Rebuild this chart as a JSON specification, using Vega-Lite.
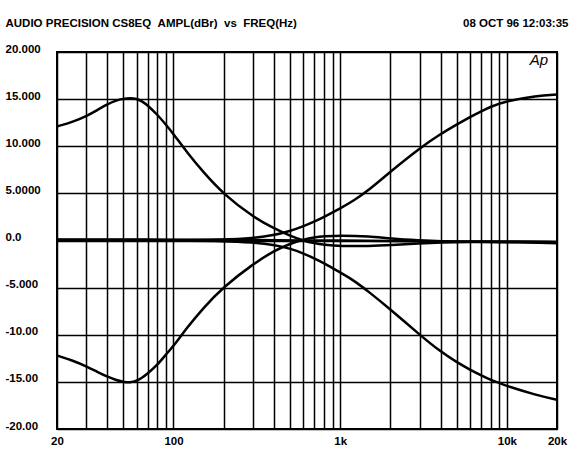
{
  "$schema": "https://vega.github.io/schema/vega-lite/v6.json",
  "width": 500,
  "height": 377,
  "autosize": "none",
  "padding": {"left": 57, "top": 52, "right": 17, "bottom": 29},
  "background": "white",
  "config": {
    "view": {"stroke": "black", "strokeWidth": 2},
    "font": "Liberation Sans"
  },
  "datasets": {
    "curves": [
      {"c": "bb", "f": 20, "db": 12.1}, {"c": "bb", "f": 25, "db": 12.6}, {"c": "bb", "f": 30, "db": 13.2}, {"c": "bb", "f": 35, "db": 13.85}, {"c": "bb", "f": 40, "db": 14.45}, {"c": "bb", "f": 45, "db": 14.85}, {"c": "bb", "f": 50, "db": 15.05}, {"c": "bb", "f": 55, "db": 15.12}, {"c": "bb", "f": 60, "db": 15.05}, {"c": "bb", "f": 65, "db": 14.75}, {"c": "bb", "f": 70, "db": 14.35}, {"c": "bb", "f": 80, "db": 13.35}, {"c": "bb", "f": 90, "db": 12.3}, {"c": "bb", "f": 100, "db": 11.3}, {"c": "bb", "f": 120, "db": 9.4}, {"c": "bb", "f": 150, "db": 7.3}, {"c": "bb", "f": 200, "db": 4.9}, {"c": "bb", "f": 300, "db": 2.5}, {"c": "bb", "f": 400, "db": 1.3}, {"c": "bb", "f": 500, "db": 0.5}, {"c": "bb", "f": 600, "db": 0.0}, {"c": "bb", "f": 700, "db": -0.3}, {"c": "bb", "f": 800, "db": -0.45}, {"c": "bb", "f": 1000, "db": -0.6}, {"c": "bb", "f": 1500, "db": -0.6}, {"c": "bb", "f": 2000, "db": -0.5}, {"c": "bb", "f": 3000, "db": -0.3}, {"c": "bb", "f": 4000, "db": -0.2}, {"c": "bb", "f": 6000, "db": -0.15}, {"c": "bb", "f": 10000, "db": -0.15}, {"c": "bb", "f": 20000, "db": -0.3},
      {"c": "bc", "f": 20, "db": -12.2}, {"c": "bc", "f": 25, "db": -12.75}, {"c": "bc", "f": 30, "db": -13.35}, {"c": "bc", "f": 35, "db": -13.95}, {"c": "bc", "f": 40, "db": -14.45}, {"c": "bc", "f": 45, "db": -14.8}, {"c": "bc", "f": 50, "db": -15.0}, {"c": "bc", "f": 55, "db": -15.07}, {"c": "bc", "f": 60, "db": -14.9}, {"c": "bc", "f": 65, "db": -14.55}, {"c": "bc", "f": 70, "db": -14.1}, {"c": "bc", "f": 80, "db": -13.2}, {"c": "bc", "f": 90, "db": -12.1}, {"c": "bc", "f": 100, "db": -11.2}, {"c": "bc", "f": 120, "db": -9.3}, {"c": "bc", "f": 150, "db": -7.2}, {"c": "bc", "f": 200, "db": -4.9}, {"c": "bc", "f": 300, "db": -2.5}, {"c": "bc", "f": 400, "db": -1.1}, {"c": "bc", "f": 500, "db": -0.35}, {"c": "bc", "f": 600, "db": 0.1}, {"c": "bc", "f": 700, "db": 0.35}, {"c": "bc", "f": 800, "db": 0.45}, {"c": "bc", "f": 1000, "db": 0.55}, {"c": "bc", "f": 1500, "db": 0.45}, {"c": "bc", "f": 2000, "db": 0.2}, {"c": "bc", "f": 3000, "db": 0.0}, {"c": "bc", "f": 4000, "db": -0.1}, {"c": "bc", "f": 6000, "db": -0.1}, {"c": "bc", "f": 10000, "db": -0.1}, {"c": "bc", "f": 20000, "db": -0.15},
      {"c": "tb", "f": 20, "db": 0.05}, {"c": "tb", "f": 100, "db": 0.05}, {"c": "tb", "f": 200, "db": 0.1}, {"c": "tb", "f": 300, "db": 0.25}, {"c": "tb", "f": 400, "db": 0.55}, {"c": "tb", "f": 500, "db": 1.0}, {"c": "tb", "f": 600, "db": 1.5}, {"c": "tb", "f": 700, "db": 2.0}, {"c": "tb", "f": 800, "db": 2.5}, {"c": "tb", "f": 1000, "db": 3.4}, {"c": "tb", "f": 1200, "db": 4.2}, {"c": "tb", "f": 1500, "db": 5.4}, {"c": "tb", "f": 2000, "db": 7.3}, {"c": "tb", "f": 3000, "db": 9.8}, {"c": "tb", "f": 4000, "db": 11.3}, {"c": "tb", "f": 5000, "db": 12.3}, {"c": "tb", "f": 6000, "db": 13.1}, {"c": "tb", "f": 7000, "db": 13.7}, {"c": "tb", "f": 8000, "db": 14.2}, {"c": "tb", "f": 10000, "db": 14.8}, {"c": "tb", "f": 15000, "db": 15.35}, {"c": "tb", "f": 20000, "db": 15.5},
      {"c": "tc", "f": 20, "db": 0.0}, {"c": "tc", "f": 100, "db": 0.0}, {"c": "tc", "f": 200, "db": -0.05}, {"c": "tc", "f": 300, "db": -0.2}, {"c": "tc", "f": 400, "db": -0.45}, {"c": "tc", "f": 500, "db": -0.85}, {"c": "tc", "f": 600, "db": -1.35}, {"c": "tc", "f": 700, "db": -1.9}, {"c": "tc", "f": 800, "db": -2.4}, {"c": "tc", "f": 1000, "db": -3.4}, {"c": "tc", "f": 1200, "db": -4.2}, {"c": "tc", "f": 1500, "db": -5.5}, {"c": "tc", "f": 2000, "db": -7.3}, {"c": "tc", "f": 3000, "db": -10.0}, {"c": "tc", "f": 4000, "db": -11.8}, {"c": "tc", "f": 5000, "db": -12.9}, {"c": "tc", "f": 6000, "db": -13.7}, {"c": "tc", "f": 7000, "db": -14.3}, {"c": "tc", "f": 8000, "db": -14.8}, {"c": "tc", "f": 9000, "db": -15.1}, {"c": "tc", "f": 10000, "db": -15.45}, {"c": "tc", "f": 15000, "db": -16.4}, {"c": "tc", "f": 20000, "db": -16.9},
      {"c": "fl", "f": 20, "db": 0.1}, {"c": "fl", "f": 100, "db": 0.1}, {"c": "fl", "f": 300, "db": 0.05}, {"c": "fl", "f": 600, "db": 0.0}, {"c": "fl", "f": 1000, "db": 0.0}, {"c": "fl", "f": 2000, "db": -0.05}, {"c": "fl", "f": 4000, "db": -0.1}, {"c": "fl", "f": 10000, "db": -0.15}, {"c": "fl", "f": 20000, "db": -0.2}
    ],
    "logo": [{"f": 15600, "db": 19.2, "label": "Ap"}]
  },
  "resolve": {"axis": {"x": "independent", "y": "independent"}},
  "layer": [
    {
      "data": {"name": "curves"},
      "mark": {"type": "line", "color": "black", "strokeWidth": 2.5, "interpolate": "basis", "clip": true},
      "encoding": {
        "x": {
          "field": "f", "type": "quantitative",
          "scale": {"type": "log", "domain": [20, 20000], "nice": false},
          "axis": {
            "orient": "bottom",
            "values": [20, 30, 40, 50, 60, 70, 80, 90, 100, 200, 300, 400, 500, 600, 700, 800, 900, 1000, 2000, 3000, 4000, 5000, 6000, 7000, 8000, 9000, 10000, 20000],
            "grid": true, "gridColor": "black", "gridWidth": 1.5, "gridOpacity": 1,
            "ticks": false, "domain": false,
            "labelExpr": "datum.value == 20 ? '20' : datum.value == 100 ? '100' : datum.value == 1000 ? '1k' : datum.value == 10000 ? '10k' : datum.value == 20000 ? '20k' : ''",
            "labelOverlap": false, "labelFont": "Liberation Sans", "labelFontWeight": "bold", "labelFontSize": 11.5, "labelColor": "black", "labelPadding": 6, "labelFlush": false,
            "title": null
          }
        },
        "y": {
          "field": "db", "type": "quantitative",
          "scale": {"domain": [-20, 20], "nice": false, "zero": false},
          "axis": {
            "orient": "left",
            "values": [-20, -15, -10, -5, 0, 5, 10, 15, 20],
            "grid": true, "gridColor": "black", "gridWidth": 1.5, "gridOpacity": 1,
            "ticks": false, "domain": false,
            "labelExpr": "datum.value == 20 ? '20.000' : datum.value == 15 ? '15.000' : datum.value == 10 ? '10.000' : datum.value == 5 ? '5.0000' : datum.value == 0 ? '0.0' : datum.value == -5 ? '-5.000' : datum.value == -10 ? '-10.00' : datum.value == -15 ? '-15.00' : '-20.00'",
            "labelOverlap": false, "labelAlign": "left", "labelBaseline": "middle", "labelPadding": 52, "labelOffset": -3, "labelFlush": false,
            "labelFont": "Liberation Sans", "labelFontWeight": "bold", "labelFontSize": 11.5, "labelColor": "black",
            "title": null
          }
        },
        "detail": {"field": "c"}
      }
    },
    {
      "data": {"name": "logo"},
      "mark": {"type": "text", "font": "Liberation Sans", "fontStyle": "italic", "fontSize": 15, "color": "black", "align": "center", "baseline": "middle"},
      "encoding": {
        "x": {
          "field": "f", "type": "quantitative",
          "axis": {
            "orient": "top", "labels": false, "ticks": false, "domain": false, "grid": false,
            "title": "AUDIO PRECISION CS8EQ\u00a0\u00a0AMPL(dBr)\u00a0\u00a0vs\u00a0\u00a0FREQ(Hz)",
            "titleX": -52, "titleY": -29, "titleAlign": "left", "titleBaseline": "middle",
            "titleFont": "Liberation Sans", "titleFontSize": 11.5, "titleFontWeight": "bold", "titleColor": "black"
          }
        },
        "y": {
          "field": "db", "type": "quantitative",
          "axis": {
            "orient": "right", "labels": false, "ticks": false, "domain": false, "grid": false,
            "title": "08 OCT 96 12:03:35",
            "titleAngle": 0, "titleX": 11, "titleY": -29, "titleAlign": "right", "titleBaseline": "middle",
            "titleFont": "Liberation Sans", "titleFontSize": 11.5, "titleFontWeight": "bold", "titleColor": "black"
          }
        },
        "text": {"field": "label"}
      }
    }
  ]
}
